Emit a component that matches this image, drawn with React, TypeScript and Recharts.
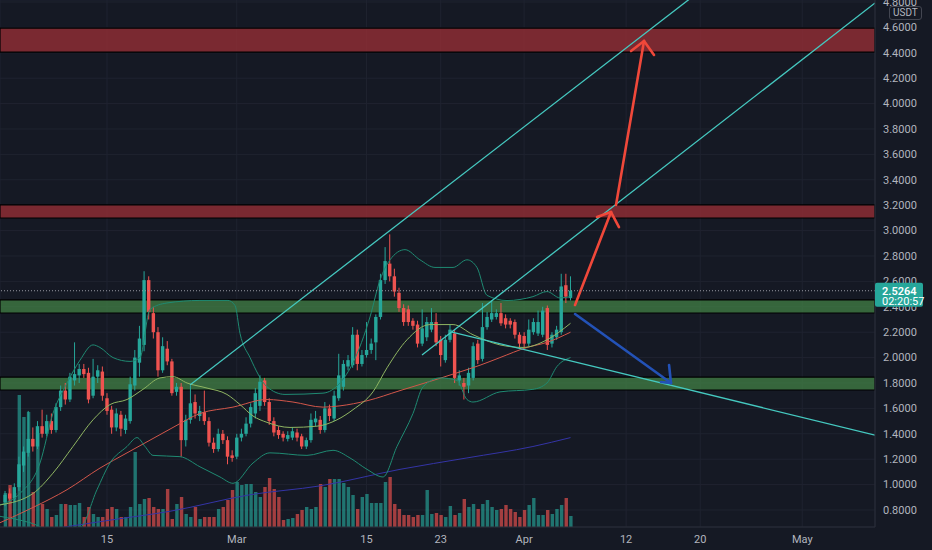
import React from "react";
import {
  ComposedChart,
  Bar,
  Line,
  XAxis,
  YAxis,
  CartesianGrid,
  ReferenceArea,
  ReferenceLine,
  Cell,
} from "recharts";

// time axis: days from 15 Feb, 12h candles
const T0 = -11;
const STEP = 0.5;

// [open, high, low, close]
const CANDLES: [number, number, number, number][] = [
  [0.86, 0.95, 0.83, 0.92], [0.93, 0.97, 0.86, 0.89], [0.89, 1.01, 0.86, 0.98], [0.98, 1.22, 0.95, 1.16],
  [1.15, 1.3, 1.1, 1.26], [1.25, 1.58, 1.22, 1.36], [1.36, 1.45, 1.26, 1.3], [1.3, 1.5, 1.28, 1.46],
  [1.46, 1.59, 1.37, 1.4], [1.4, 1.55, 1.38, 1.5], [1.5, 1.56, 1.4, 1.43], [1.43, 1.64, 1.41, 1.61],
  [1.61, 1.78, 1.58, 1.74], [1.74, 1.8, 1.63, 1.67], [1.67, 1.88, 1.65, 1.85], [1.82, 2.12, 1.78, 1.87],
  [1.86, 1.95, 1.8, 1.91], [1.91, 1.95, 1.84, 1.87], [1.88, 1.92, 1.64, 1.67], [1.7, 1.99, 1.68, 1.85],
  [1.85, 1.94, 1.8, 1.9], [1.89, 1.93, 1.66, 1.7], [1.68, 1.72, 1.55, 1.58], [1.59, 1.62, 1.4, 1.45],
  [1.45, 1.6, 1.42, 1.56], [1.55, 1.58, 1.38, 1.44], [1.43, 1.55, 1.4, 1.52], [1.5, 1.85, 1.48, 1.79],
  [1.78, 2.06, 1.74, 2.0], [1.96, 2.25, 1.85, 2.15], [2.1, 2.68, 2.05, 2.61], [2.61, 2.64, 2.3, 2.36],
  [2.35, 2.4, 2.15, 2.2], [2.2, 2.24, 1.85, 1.9], [1.9, 2.16, 1.88, 2.09], [2.07, 2.13, 1.94, 1.97],
  [1.97, 1.99, 1.7, 1.72], [1.73, 1.8, 1.7, 1.77], [1.77, 1.8, 1.22, 1.35], [1.35, 1.55, 1.3, 1.51],
  [1.51, 1.78, 1.48, 1.64], [1.65, 1.71, 1.52, 1.56], [1.54, 1.62, 1.5, 1.58], [1.57, 1.74, 1.47, 1.5],
  [1.5, 1.53, 1.3, 1.33], [1.33, 1.37, 1.25, 1.28], [1.28, 1.44, 1.26, 1.4], [1.4, 1.43, 1.32, 1.35],
  [1.35, 1.38, 1.16, 1.22], [1.23, 1.27, 1.18, 1.21], [1.22, 1.4, 1.2, 1.37], [1.37, 1.44, 1.34, 1.4],
  [1.4, 1.53, 1.38, 1.48], [1.48, 1.64, 1.45, 1.61], [1.56, 1.76, 1.52, 1.72], [1.62, 1.86, 1.58, 1.81],
  [1.82, 1.84, 1.62, 1.65], [1.65, 1.68, 1.47, 1.5], [1.5, 1.53, 1.38, 1.41], [1.43, 1.46, 1.36, 1.39],
  [1.4, 1.42, 1.34, 1.37], [1.36, 1.42, 1.34, 1.39], [1.37, 1.45, 1.35, 1.42], [1.41, 1.44, 1.34, 1.37],
  [1.38, 1.4, 1.28, 1.3], [1.3, 1.37, 1.28, 1.35], [1.35, 1.56, 1.33, 1.51], [1.49, 1.58, 1.46, 1.52],
  [1.51, 1.54, 1.4, 1.43], [1.43, 1.65, 1.41, 1.6], [1.6, 1.63, 1.5, 1.54], [1.52, 1.74, 1.5, 1.7],
  [1.68, 2.03, 1.66, 1.86], [1.77, 1.98, 1.74, 1.95], [1.93, 2.02, 1.9, 1.98], [1.94, 2.24, 1.92, 2.18],
  [2.18, 2.22, 1.9, 1.95], [1.95, 2.06, 1.93, 2.02], [2.02, 2.28, 2.0, 2.06], [2.06, 2.15, 2.03, 2.11],
  [2.12, 2.34, 1.98, 2.32], [2.32, 2.66, 2.3, 2.61], [2.61, 2.87, 2.58, 2.76], [2.74, 2.97, 2.6, 2.64],
  [2.64, 2.7, 2.48, 2.52], [2.51, 2.55, 2.36, 2.39], [2.39, 2.42, 2.25, 2.28], [2.38, 2.41, 2.25, 2.28],
  [2.29, 2.31, 2.22, 2.25], [2.26, 2.29, 2.08, 2.11], [2.11, 2.38, 2.09, 2.23], [2.16, 2.32, 2.13, 2.28],
  [2.22, 2.39, 2.2, 2.28], [2.28, 2.35, 2.09, 2.12], [2.14, 2.17, 1.93, 2.02], [1.98, 2.18, 1.96, 2.14],
  [2.14, 2.26, 2.12, 2.22], [2.19, 2.22, 1.8, 1.84], [1.82, 1.9, 1.78, 1.86], [1.8, 1.84, 1.67, 1.77],
  [1.78, 1.92, 1.72, 1.88], [1.84, 2.12, 1.82, 2.09], [2.11, 2.14, 1.95, 1.98], [1.99, 2.43, 1.97, 2.24],
  [2.24, 2.36, 2.22, 2.32], [2.3, 2.45, 2.28, 2.35], [2.32, 2.38, 2.3, 2.35], [2.35, 2.43, 2.25, 2.27],
  [2.31, 2.34, 2.23, 2.26], [2.29, 2.31, 2.23, 2.26], [2.28, 2.3, 2.15, 2.18], [2.18, 2.2, 2.08, 2.11],
  [2.17, 2.2, 2.08, 2.11], [2.11, 2.3, 2.09, 2.22], [2.2, 2.31, 2.18, 2.28], [2.19, 2.37, 2.17, 2.28],
  [2.18, 2.4, 2.16, 2.37], [2.39, 2.41, 2.06, 2.1], [2.11, 2.2, 2.08, 2.18], [2.16, 2.25, 2.14, 2.22],
  [2.2, 2.66, 2.18, 2.56], [2.57, 2.66, 2.43, 2.48], [2.47, 2.64, 2.45, 2.5264],
];

const VOLUME = [
  34, 42, 34, 132, 110, 115, 35, 94, 23, 18,
  10, 12, 23, 23, 22, 22, 24, 10, 20, 13,
  10, 10, 18, 20, 18, 10, 10, 20, 75, 23,
  28, 29, 20, 18, 18, 38, 8, 23, 30, 13,
  10, 20, 8, 10, 10, 10, 18, 20, 27, 37,
  45, 42, 43, 43, 35, 30, 40, 49, 38, 30,
  7, 8, 9, 13, 17, 20, 18, 20, 43, 40,
  48, 48, 48, 44, 40, 32, 18, 30, 33, 24,
  24, 24, 45, 50, 23, 18, 12, 12, 10, 12,
  12, 37, 13, 14, 12, 10, 21, 12, 14, 28,
  20, 23, 18, 23, 27, 20, 17, 18, 22, 18,
  15, 10, 17, 22, 29, 12, 12, 17, 13, 18,
  22, 29, 11,
];

// indicator lines, [t, price]
const BB_BASIS = [
  [-11.54, 0.84], [-7.98, 0.93], [-5.83, 1.09], [-3.67, 1.3], [-1.51, 1.51], [0.32, 1.63], [2.16, 1.67],
  [3.88, 1.75], [5.72, 1.84], [7.12, 1.85], [8.63, 1.8], [10.79, 1.76], [12.94, 1.71], [14.35, 1.63],
  [15.75, 1.54], [17.26, 1.49], [19.74, 1.45], [22.65, 1.46], [24.81, 1.51], [26.54, 1.59], [28.69, 1.73],
  [30.21, 1.92], [32.36, 2.14], [34.84, 2.26], [37.33, 2.26], [39.48, 2.18], [42.39, 2.1], [44.88, 2.08],
  [47.46, 2.14], [50, 2.27],
];
const BB_UPPER = [
  [-11.54, 0.84], [-9.39, 0.93], [-7.23, 1.17], [-5.83, 1.56], [-4.31, 1.8], [-2.91, 1.98], [-1.51, 2.1],
  [-0.76, 2.08], [0.65, 2.0], [2.48, 1.97], [3.56, 2.0], [4.64, 2.38], [6.47, 2.43], [10.03, 2.45],
  [13.05, 2.45], [13.81, 2.41], [14.35, 2.19], [15.43, 2.0], [17.26, 1.77], [19.2, 1.71], [23.3, 1.72],
  [25.13, 1.8], [26.54, 1.96], [28.37, 2.32], [29.45, 2.61], [30.53, 2.77], [32.15, 2.85], [33.76, 2.77],
  [35.38, 2.71], [37.33, 2.71], [38.83, 2.77], [39.91, 2.71], [40.99, 2.49], [43.15, 2.45], [45.95, 2.48],
  [47.46, 2.52], [48.87, 2.47], [50, 2.48],
];
const BB_LOWER = [
  [-11.54, 0.75], [-8.31, 0.7], [-5.61, 0.63], [-2.91, 0.66], [-1.08, 0.96], [0.32, 1.17], [2.16, 1.3],
  [3.24, 1.37], [4.1, 1.3], [4.96, 1.23], [7.87, 1.22], [10.03, 1.14], [12.19, 1.06], [13.59, 1.01],
  [15.75, 1.17], [17.58, 1.25], [21.57, 1.23], [24.38, 1.27], [26.21, 1.21], [28.05, 1.12], [29.77, 1.06],
  [31.28, 1.3], [33.01, 1.56], [34.09, 1.77], [35.92, 1.84], [37.76, 1.82], [38.83, 1.67], [39.48, 1.65],
  [42.39, 1.73], [45.95, 1.75], [47.46, 1.8], [48.54, 1.93], [50, 2.0],
];
const MA_50 = [
  [-11.54, 0.7], [-7.98, 0.82], [-4.31, 0.96], [-0.76, 1.13], [2.16, 1.25], [4.64, 1.35], [7.12, 1.45],
  [10.03, 1.56], [13.59, 1.61], [17.26, 1.67], [20.06, 1.65], [23.3, 1.61], [25.13, 1.62], [28.05, 1.66],
  [31.61, 1.74], [35.17, 1.82], [37.76, 1.88], [40.24, 1.94], [42.39, 2.0], [45.31, 2.08], [47.46, 2.12],
  [50, 2.2],
];
const MA_200 = [
  [-5.07, 0.66], [0.32, 0.72], [6.8, 0.79], [15.43, 0.92], [22.98, 0.99], [31.61, 1.12], [38.83, 1.21],
  [45.95, 1.3], [50, 1.37],
];

// drawings: zones [from, to], trend lines and arrows [[t, p], [t, p]]
const RED_ZONES = [[4.406, 4.595], [3.099, 3.202]];
const GREEN_ZONES = [[2.351, 2.454], [1.745, 1.847]];
const TREND_LINES = [
  [[8.95, 1.784], [64.2, 4.9]],
  [[33.98, 2.02], [82.85, 4.792]],
  [[37.22, 2.201], [82.85, 1.39]],
];
const RED_ARROWS = [
  [[50.49, 2.414], [54.37, 3.146]], [[54.37, 3.146], [52.86, 3.107]], [[54.37, 3.146], [55.23, 3.028]],
  [[54.91, 3.202], [57.93, 4.493]], [[57.93, 4.493], [56.53, 4.414]], [[57.93, 4.493], [59.01, 4.383]],
];
const BLUE_ARROW = [
  [[50.49, 2.343], [60.84, 1.8]], [[60.84, 1.8], [60.63, 1.942]], [[60.84, 1.8], [59.76, 1.808]],
];

const DATE_TICKS = [0, 14, 28, 36, 45, 56, 64, 75];
const DATE_LABELS = ["15", "Mar", "15", "23", "Apr", "12", "20", "May"];
const PRICE_TICKS = [0.8, 1.0, 1.2, 1.4, 1.6, 1.8, 2.0, 2.2, 2.4, 2.6, 2.8, 3.0, 3.2, 3.4, 3.6, 3.8, 4.0, 4.2, 4.4, 4.6, 4.8];
const LAST_PRICE = 2.5264;
const COUNTDOWN = "02:20:57";

const X_MIN = -11.543;
const X_MAX = 82.848;
const Y_MIN = 0.6661;
const Y_MAX = 4.8157;

const UP = "#26a69a";
const DOWN = "#ef5350";
const TEXT = "#b2b5be";
const FONT = "Roboto, 'Liberation Sans', sans-serif";

const rows = CANDLES.map(([o, h, l, c], i) => ({ t: T0 + i * STEP, o, h, l, c, v: VOLUME[i] }));
const pts = (list: number[][]) => list.map(([t, p]) => ({ t, p }));
const seg = (s: number[][]) => s.map(([x, y]) => ({ x, y }));

const Candle = (props: any) => {
  const { x, y, width, height, payload } = props;
  const { o, h, l, c } = payload;
  const cx = x + width / 2;
  const py = (v: number) => y + ((h - v) / (h - l)) * height;
  const color = c >= o ? UP : DOWN;
  const top = py(Math.max(o, c));
  const bot = py(Math.min(o, c));
  return (
    <g>
      <line x1={cx} x2={cx} y1={y} y2={y + height} stroke={color} strokeWidth={1} />
      <rect x={cx - 1.7} y={top} width={3.4} height={Math.max(1, bot - top)} fill={color} />
    </g>
  );
};

// last-price tag, drawn on an overlay chart so it sits above the axis labels
const PriceTag = (props: any) => {
  const { viewBox } = props;
  if (!viewBox) return null;
  const x = viewBox.x + viewBox.width;
  const y = viewBox.y;
  return (
    <g fontFamily={FONT}>
      <line x1={x} x2={x + 4} y1={y} y2={y} stroke="#fff" />
      <rect x={x} y={y - 8} width={48} height={24} rx={2} fill="#26a69a" />
      <text x={x + 7} y={y + 4} fill="#fff" fontSize={11} fontWeight={600}>
        {LAST_PRICE.toFixed(4)}
      </text>
      <text x={x + 7} y={y + 14} fill="#fff" fontSize={11}>
        {COUNTDOWN}
      </text>
    </g>
  );
};

const lineProps = {
  dataKey: "p",
  type: "monotone" as const,
  strokeWidth: 1,
  dot: false,
  activeDot: false,
  isAnimationActive: false,
};

export default function App() {
  return (
    <div style={{ position: "relative", width: 932, height: 550, background: "#151924", fontFamily: FONT }}>
      <style>{"body{margin:0;background:#151924}"}</style>
      <ComposedChart width={932} height={550} data={rows} margin={{ top: 0, right: 0, bottom: 0, left: 0 }}>
        <CartesianGrid stroke="#1f2330" />
        <XAxis
          type="number"
          dataKey="t"
          domain={[X_MIN, X_MAX]}
          allowDataOverflow
          ticks={DATE_TICKS}
          interval={0}
          tickFormatter={(v: number) => DATE_LABELS[DATE_TICKS.indexOf(v)] ?? ""}
          height={23}
          axisLine={{ stroke: "#2a2e39" }}
          tickLine={false}
          tick={{ fill: TEXT, fontSize: 11 }}
        />
        <XAxis xAxisId="v" type="number" dataKey="t" domain={[X_MIN, X_MAX]} allowDataOverflow hide />
        <YAxis
          orientation="right"
          domain={[Y_MIN, Y_MAX]}
          allowDataOverflow
          ticks={PRICE_TICKS}
          interval={0}
          tickFormatter={(v: number) => v.toFixed(4)}
          width={57}
          axisLine={{ stroke: "#2a2e39" }}
          tickLine={false}
          tick={{ fill: TEXT, fontSize: 11 }}
        />
        <YAxis yAxisId="v" domain={[0, 527]} hide />

        <Bar xAxisId="v" yAxisId="v" dataKey="v" barSize={3.4} isAnimationActive={false}>
          {rows.map((r, i) => (
            <Cell key={i} fill={r.c >= r.o ? "rgba(38,166,154,0.65)" : "rgba(239,83,80,0.65)"} />
          ))}
        </Bar>

        <Line {...lineProps} data={pts(MA_200)} stroke="#3434a6" />
        <Line {...lineProps} data={pts(MA_50)} stroke="#d2564a" />
        <Line {...lineProps} data={pts(BB_UPPER)} stroke="#1f8a72" />
        <Line {...lineProps} data={pts(BB_LOWER)} stroke="#1f8a72" />
        <Line {...lineProps} data={pts(BB_BASIS)} stroke="#8fb562" />

        <Bar dataKey={(d: any) => [d.l, d.h]} barSize={3.4} shape={<Candle />} isAnimationActive={false} />

        {RED_ZONES.map(([a, b], i) => (
          <ReferenceArea key={"r" + i} y1={a} y2={b} fill="#9c2f36" fillOpacity={0.75} stroke="#000" strokeWidth={1.2} ifOverflow="hidden" />
        ))}
        {GREEN_ZONES.map(([a, b], i) => (
          <ReferenceArea key={"g" + i} y1={a} y2={b} fill="#458847" fillOpacity={0.7} stroke="#000" strokeWidth={1.2} ifOverflow="hidden" />
        ))}

        {TREND_LINES.map((s, i) => (
          <ReferenceLine key={"t" + i} segment={seg(s)} stroke="#45c9c0" strokeWidth={1.3} ifOverflow="hidden" />
        ))}
        {RED_ARROWS.map((s, i) => (
          <ReferenceLine key={"a" + i} segment={seg(s)} stroke="#f0483a" strokeWidth={2.6} strokeLinecap="round" ifOverflow="hidden" />
        ))}
        {BLUE_ARROW.map((s, i) => (
          <ReferenceLine key={"b" + i} segment={seg(s)} stroke="#2352b7" strokeWidth={2.6} strokeLinecap="round" ifOverflow="hidden" />
        ))}

        <ReferenceLine y={LAST_PRICE} stroke="#9598a1" strokeDasharray="1 2" />
      </ComposedChart>

      <div style={{ position: "absolute", left: 0, top: 0, pointerEvents: "none" }}>
        <ComposedChart width={932} height={550} data={rows} margin={{ top: 0, right: 57, bottom: 23, left: 0 }}>
          <XAxis type="number" dataKey="t" domain={[X_MIN, X_MAX]} allowDataOverflow hide />
          <YAxis domain={[Y_MIN, Y_MAX]} allowDataOverflow hide />
          <ReferenceLine y={LAST_PRICE} stroke="none" label={<PriceTag />} />
        </ComposedChart>
      </div>

      <span
        style={{
          position: "absolute",
          left: 889,
          top: 6,
          border: "1px solid #434651",
          borderRadius: 3,
          padding: "0 3px",
          fontSize: 10,
          lineHeight: "12px",
          color: TEXT,
        }}
      >
        USDT
      </span>
    </div>
  );
}
